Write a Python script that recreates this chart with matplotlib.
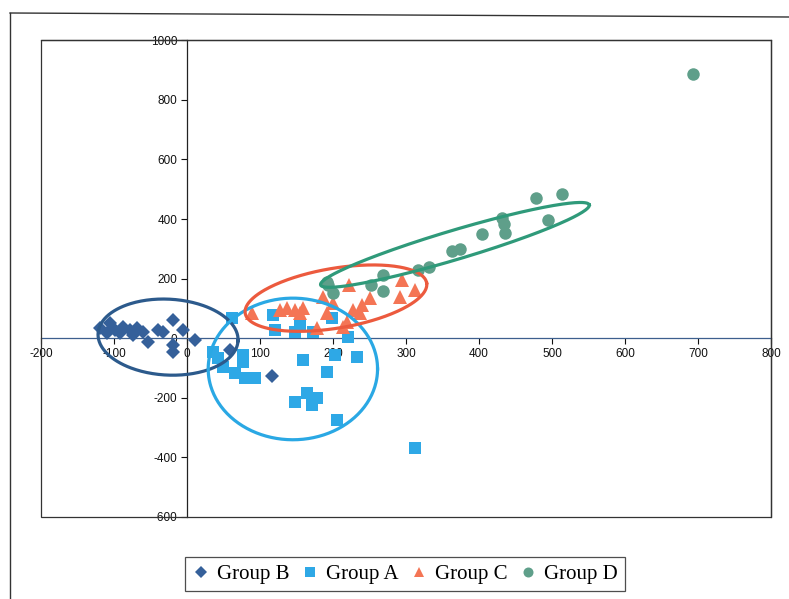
#!/usr/bin/env python3
"""
Scatter of four groups with hand-drawn style ellipses, Excel look.
"""

import numpy as np
import matplotlib
matplotlib.use('Agg')
import matplotlib.pyplot as plt
from matplotlib.lines import Line2D
from matplotlib.patches import Rectangle

# Group B - dark blue diamonds
group_b_x = [-119, -110, -105, -99, -92, -88, -78, -74, -68, -60, -53, -40, -33, -19, -5, -19, -19, 11, 59, 116]
group_b_y = [34, 17, 50, 27, 17, 37, 27, 10, 34, 20, -13, 27, 20, 61, 27, -24, -47, -7, -40, -128]

# Group A - light blue squares
group_a_x = [62, 118, 121, 148, 155, 173, 199, 221, 36, 42, 49, 66, 79, 93, 77, 77,
             159, 203, 233, 192, 148, 164, 178, 171, 205, 312]
group_a_y = [67, 77, 27, 20, 44, 20, 67, 3, -47, -67, -97, -118, -134, -134, -57, -81,
             -74, -57, -64, -114, -215, -185, -202, -225, -276, -370]

# Group C - orange triangles
group_c_x = [89, 127, 137, 148, 159, 155, 178, 186, 200, 192, 222, 227, 237, 240, 251, 214, 219, 295, 292, 312]
group_c_y = [84, 94, 101, 94, 101, 84, 34, 138, 118, 84, 178, 94, 84, 111, 134, 37, 54, 195, 138, 161]

# Group D - green circles
group_d_x = [478, 514, 495, 432, 434, 436, 404, 363, 374, 332, 316, 268, 252, 268, 193, 200, 192, 693]
group_d_y = [471, 484, 397, 403, 383, 353, 350, 292, 299, 239, 229, 212, 178, 158, 178, 151, 188, 887]

x_ticks = np.arange(-200, 801, 100)
y_ticks = np.arange(-600, 1001, 200)

# ellipses: center x, center y, semi-axis a, semi-axis b (x units), angle deg
ellipse_b = (-26, 3, 96, 52, -3)
ellipse_a = (145, -104, 116, 97, 0)
ellipse_c = (204, 134, 126, 41, 9.5)
ellipse_d = (367, 313, 192, 20, 16.6)

col_b = '#35609a'
col_a = '#2ea8e6'
col_c = '#f47555'
col_d = '#5f9f8a'
ell_col_b = '#2c5a8c'
ell_col_a = '#2aa8e4'
ell_col_c = '#ec5a3e'
ell_col_d = '#2f9a7a'


def ellipse_xy(cx, cy, a, b, angle, ratio):
    """Points of an ellipse given in screen-like units, back in data units."""
    t = np.linspace(0, 2 * np.pi, 300)
    phi = np.radians(angle)
    ex = a * np.cos(t) * np.cos(phi) - b * np.sin(t) * np.sin(phi)
    ey = a * np.cos(t) * np.sin(phi) + b * np.sin(t) * np.cos(phi)
    return cx + ex, cy + ey / ratio


fig = plt.figure(figsize=(7.89, 5.99), dpi=100)
ax = fig.add_axes([0.052, 0.1377, 0.9252, 0.7947])

ax.set_xlim(-200, 800)
ax.set_ylim(-600, 1000)

# markers
ax.plot(group_b_x, group_b_y, 'D', color=col_b, markersize=7.2, markeredgewidth=0, label='Group B', zorder=3)
ax.plot(group_a_x, group_a_y, 's', color=col_a, markersize=8.7, markeredgewidth=0, label='Group A', zorder=3)
ax.plot(group_c_x, group_c_y, '^', color=col_c, markersize=9.5, markeredgewidth=0, label='Group C', zorder=3)
ax.plot(group_d_x, group_d_y, 'o', color=col_d, markersize=9, markeredgewidth=0, label='Group D', zorder=3)

# y px per unit / x px per unit
fig_w, fig_h = fig.get_size_inches()
pos = ax.get_position()
ratio = (pos.height * fig_h / 1600) / (pos.width * fig_w / 1000)

for params, c in [(ellipse_b, ell_col_b), (ellipse_a, ell_col_a),
                  (ellipse_c, ell_col_c), (ellipse_d, ell_col_d)]:
    ex, ey = ellipse_xy(*params, ratio)
    ax.plot(ex, ey, color=c, lw=2.3, zorder=4)

# axes through zero, Excel style
ax.spines['left'].set_position(('data', 0))
ax.spines['bottom'].set_position(('data', 0))
for s in ax.spines.values():
    s.set_linewidth(0.9)
    s.set_color('#222222')
ax.spines['bottom'].set_color('#3d5f8e')
ax.add_patch(Rectangle((0, 0), 1, 1, transform=ax.transAxes, fill=False,
                       lw=0.9, edgecolor='#333333', clip_on=False, zorder=5))

ax.set_xticks(x_ticks)
ax.set_yticks(y_ticks)
ax.set_xticklabels([str(v) for v in x_ticks])
ax.set_yticklabels([str(v) for v in y_ticks])
ax.tick_params(direction='out', length=4, width=0.8, labelsize=8.5, colors='#111111', pad=3)
for lab in ax.get_xticklabels() + ax.get_yticklabels():
    lab.set_fontfamily('Liberation Sans')

# legend below the plot
leg = fig.legend(loc='center', bbox_to_anchor=(405 / 789, 1 - 574 / 599), ncol=4,
                 prop={'family': 'Liberation Serif', 'size': 15}, frameon=True,
                 fancybox=False, edgecolor='#222222', handlelength=0.8,
                 handletextpad=0.35, columnspacing=0.6, borderpad=0.35,
                 markerscale=0.8)
leg.get_frame().set_linewidth(0.9)

# outer chart border
fig.add_artist(Line2D([10 / 789, 1.0], [1 - 13 / 599, 1 - 17 / 599], color='#333333', lw=1.0))
fig.add_artist(Line2D([10 / 789, 10 / 789], [0.0, 1 - 13 / 599], color='#333333', lw=1.0))

plt.savefig('out.png', dpi=100)
